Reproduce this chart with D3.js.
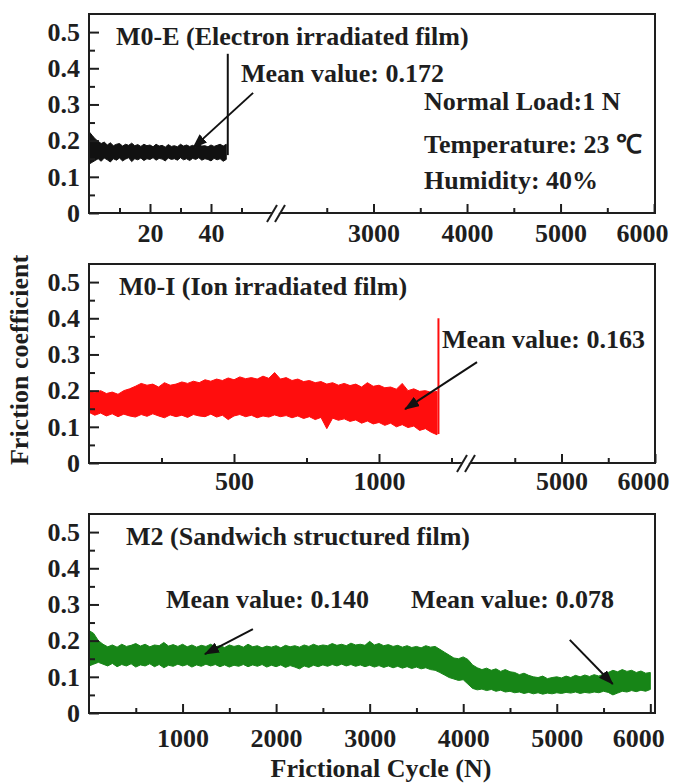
<!DOCTYPE html>
<html>
<head>
<meta charset="utf-8">
<script src="https://cdn.jsdelivr.net/npm/d3@7"></script>
<style>
  body { margin: 0; background: #fff; }
  svg text { font-family: "Liberation Serif", "Times New Roman", serif; font-weight: bold; fill: #1e1e1e; }
</style>
</head>
<body>
<div id="chart"></div>
<script>
// y axis, shared by the three panels
const yTicks = [0, 0.1, 0.2, 0.3, 0.4, 0.5];
const yMinor = [0.05, 0.15, 0.25, 0.35, 0.45];

// x ticks
const eMajorLeft = [20, 40], eMinorLeft = [10, 30, 50];
const eMajorRight = [3000, 4000, 5000, 6000], eMinorRight = [2500, 3500, 4500, 5500];
const iMajorLeft = [500, 1000], iMinorLeft = [250, 750, 1250];
const iMajorRight = [5000, 6000], iMinorRight = [4500, 5500];
const sMajor = [1000, 2000, 3000, 4000, 5000, 6000], sMinor = [500, 1500, 2500, 3500, 4500, 5500];

// M0-E: envelope of the trace, one sample per cycle (0..45)
const eStep = 1;
const eUpper = [0.225,0.215,0.205,0.198,0.192,0.196,0.188,0.194,0.186,0.19,0.192,0.185,0.19,0.187,0.193,0.186,0.189,0.184,0.19,0.186,0.188,0.183,0.19,0.185,0.187,0.182,0.189,0.184,0.186,0.183,0.19,0.185,0.188,0.184,0.187,0.182,0.189,0.185,0.186,0.183,0.188,0.184,0.187,0.19,0.185,0.19];
const eLower = [0.135,0.14,0.145,0.15,0.143,0.152,0.147,0.141,0.15,0.146,0.152,0.144,0.149,0.153,0.142,0.15,0.147,0.152,0.145,0.15,0.148,0.153,0.146,0.151,0.149,0.144,0.152,0.148,0.15,0.146,0.153,0.147,0.15,0.145,0.151,0.148,0.153,0.146,0.15,0.148,0.144,0.151,0.147,0.15,0.143,0.148];
const eSpike = { cycle: 45.5, from: 0.16, to: 0.44 };

// M0-I: one sample every 20 cycles (0..1200)
const iStep = 20;
const iUpper = [0.198,0.195,0.2,0.192,0.196,0.19,0.2,0.205,0.212,0.22,0.215,0.218,0.21,0.222,0.215,0.218,0.224,0.22,0.226,0.222,0.23,0.226,0.232,0.228,0.235,0.23,0.238,0.233,0.236,0.232,0.24,0.234,0.25,0.232,0.236,0.228,0.232,0.225,0.228,0.222,0.225,0.218,0.222,0.215,0.22,0.214,0.218,0.21,0.222,0.212,0.215,0.208,0.21,0.204,0.22,0.2,0.205,0.198,0.2,0.195,0.198];
const iLower = [0.14,0.132,0.138,0.13,0.136,0.128,0.135,0.13,0.127,0.134,0.129,0.136,0.13,0.125,0.133,0.128,0.132,0.126,0.134,0.13,0.128,0.135,0.127,0.132,0.12,0.13,0.134,0.128,0.132,0.125,0.13,0.127,0.133,0.128,0.131,0.125,0.13,0.123,0.128,0.12,0.126,0.095,0.124,0.118,0.122,0.115,0.119,0.11,0.116,0.108,0.112,0.104,0.11,0.1,0.106,0.098,0.102,0.09,0.095,0.085,0.078];
const iSpike = { cycle: 1205, from: 0.08, to: 0.40 };

// M2: one sample every 50 cycles (0..6000)
const sStep = 50;
const sUpper = [0.228,0.22,0.2,0.19,0.183,0.188,0.182,0.19,0.184,0.187,0.192,0.185,0.19,0.183,0.188,0.186,0.195,0.185,0.189,0.184,0.19,
  0.183,0.188,0.182,0.187,0.184,0.19,0.183,0.186,0.181,0.188,0.184,0.187,0.182,0.19,0.183,0.186,0.18,0.185,0.182,0.186,
  0.18,0.187,0.183,0.186,0.182,0.188,0.184,0.19,0.185,0.188,0.186,0.192,0.187,0.19,0.186,0.193,0.188,0.19,0.187,0.198,
  0.188,0.192,0.186,0.189,0.184,0.187,0.182,0.186,0.181,0.184,0.18,0.186,0.182,0.184,0.176,0.168,0.16,0.152,0.15,0.155,
  0.148,0.133,0.125,0.12,0.124,0.118,0.122,0.115,0.12,0.114,0.112,0.106,0.11,0.104,0.1,0.098,0.102,0.095,0.098,0.1,
  0.097,0.102,0.098,0.104,0.1,0.105,0.101,0.106,0.102,0.108,0.112,0.118,0.114,0.12,0.115,0.118,0.112,0.116,0.11,0.112];
const sLower = [0.13,0.135,0.14,0.135,0.13,0.137,0.128,0.134,0.13,0.136,0.127,0.133,0.13,0.136,0.128,0.134,0.125,0.132,0.129,0.135,0.13,
  0.134,0.127,0.133,0.129,0.135,0.13,0.134,0.128,0.133,0.127,0.132,0.129,0.134,0.128,0.133,0.129,0.134,0.127,0.132,0.128,
  0.133,0.126,0.131,0.127,0.122,0.13,0.126,0.132,0.128,0.133,0.129,0.134,0.13,0.135,0.13,0.134,0.129,0.133,0.128,0.132,
  0.127,0.131,0.126,0.13,0.125,0.129,0.124,0.128,0.123,0.127,0.122,0.125,0.12,0.118,0.112,0.105,0.098,0.094,0.09,0.092,
  0.08,0.068,0.064,0.066,0.062,0.065,0.06,0.063,0.058,0.06,0.056,0.058,0.054,0.057,0.053,0.056,0.052,0.055,0.053,0.056,
  0.054,0.057,0.055,0.058,0.054,0.057,0.055,0.058,0.056,0.06,0.057,0.05,0.055,0.06,0.058,0.062,0.059,0.063,0.06,0.065];
const sStart = { cycle: 0, from: 0, to: 0.225 };

const width = 673, height = 784;
const left = 89, right = 655, panelH = 199;
const fs = 26;

const svg = d3.select("#chart").append("svg")
  .attr("width", width).attr("height", height);

const defs = svg.append("defs");
defs.append("marker")
  .attr("id", "head")
  .attr("markerUnits", "userSpaceOnUse")
  .attr("markerWidth", 16).attr("markerHeight", 11)
  .attr("refX", 14).attr("refY", 5.5)
  .attr("orient", "auto")
  .append("path").attr("d", "M0,0 L15,5.5 L0,11 Z").attr("fill", "#111");

function bandRows(step, upper, lower) {
  return upper.map((u, i) => ({ c: i * step, hi: u, lo: lower[i] }));
}

function drawPanel(p) {
  const g = svg.append("g");
  const bottom = p.top + panelH;
  const y = d3.scaleLinear().domain([0, 0.55]).range([bottom, p.top]);
  const xs = p.segs.map((s) => d3.scaleLinear().domain(s.domain).range(s.range));
  const x = xs[0];

  // trace as a filled band
  const area = d3.area().x((d) => x(d.c)).y0((d) => y(d.lo)).y1((d) => y(d.hi));
  g.append("path").datum(p.rows)
    .attr("d", area).attr("fill", p.color)
    .attr("stroke", p.color).attr("stroke-width", 1).attr("stroke-linejoin", "miter");
  p.lines.forEach((s) => {
    g.append("line")
      .attr("x1", x(s.cycle)).attr("x2", x(s.cycle))
      .attr("y1", y(s.from)).attr("y2", y(s.to))
      .attr("stroke", p.color).attr("stroke-width", 2);
  });

  // y axis
  const ya = g.append("g").attr("transform", `translate(${left},0)`)
    .call(d3.axisLeft(y).tickValues(yTicks).tickSize(-10).tickPadding(9).tickFormat((d) => String(d)));
  const ym = g.append("g").attr("transform", `translate(${left},0)`)
    .call(d3.axisLeft(y).tickValues(yMinor).tickSize(-6).tickFormat(""));
  [ya, ym].forEach((a) => {
    a.select(".domain").remove();
    a.selectAll("line").attr("stroke", "#1e1e1e").attr("stroke-width", 2);
  });
  ya.selectAll("text").attr("font-size", fs).attr("fill", "#1e1e1e")
    .attr("font-family", "Liberation Serif").attr("font-weight", "bold");

  // x axes, one per segment
  p.segs.forEach((s, i) => {
    const a = g.append("g").attr("transform", `translate(0,${bottom})`)
      .call(d3.axisBottom(xs[i]).tickValues(s.major).tickSize(-9).tickPadding(p.labelPad).tickFormat((d) => String(d)));
    const m = g.append("g").attr("transform", `translate(0,${bottom})`)
      .call(d3.axisBottom(xs[i]).tickValues(s.minor).tickSize(-5).tickFormat(""));
    [a, m].forEach((ax) => {
      ax.select(".domain").remove();
      ax.selectAll("line").attr("stroke", "#1e1e1e").attr("stroke-width", 2);
    });
    a.selectAll("text").attr("font-size", fs).attr("fill", "#1e1e1e")
      .attr("font-family", "Liberation Serif").attr("font-weight", "bold")
      .attr("dx", (d) => (d === 6000 ? -12 : 0));
  });

  // frame
  g.append("rect")
    .attr("x", left).attr("y", p.top)
    .attr("width", right - left).attr("height", panelH)
    .attr("fill", "none").attr("stroke", "#1e1e1e").attr("stroke-width", 2);

  // axis break
  if (p.breakX) {
    const bx = p.breakX;
    g.append("polygon")
      .attr("points", `${bx - 9},${bottom + 3} ${bx - 2},${bottom - 3} ${bx + 6},${bottom - 3} ${bx - 1},${bottom + 3}`)
      .attr("fill", "#fff");
    [-4, 4].forEach((o) => {
      g.append("line")
        .attr("x1", bx + o - 6).attr("y1", bottom + 9)
        .attr("x2", bx + o + 4).attr("y2", bottom - 8)
        .attr("stroke", "#1e1e1e").attr("stroke-width", 2);
    });
  }

  // title and notes
  g.append("text").attr("x", p.titleX).attr("y", p.top + 31)
    .attr("font-size", fs).text(p.title);
  p.notes.forEach((n) => {
    g.append("text").attr("x", n.x).attr("y", n.y).attr("font-size", fs).text(n.text);
  });
  p.arrows.forEach((a) => {
    const sx = xs[a.seg || 0];
    g.append("line")
      .attr("x1", sx(a.from[0])).attr("y1", y(a.from[1]))
      .attr("x2", sx(a.to[0])).attr("y2", y(a.to[1]))
      .attr("stroke", "#111").attr("stroke-width", 2)
      .attr("marker-end", "url(#head)");
  });
}

drawPanel({
  top: 14, color: "#111",
  rows: bandRows(eStep, eUpper, eLower),
  lines: [eSpike],
  segs: [
    { domain: [0, 60], range: [left, 272], major: eMajorLeft, minor: eMinorLeft },
    { domain: [2000, 6010], range: [280, right], major: eMajorRight, minor: eMinorRight }
  ],
  breakX: 277, labelPad: 11,
  title: "M0-E (Electron irradiated film)", titleX: 116,
  notes: [
    { x: 241, y: 82, text: "Mean value: 0.172" },
    { x: 424, y: 110, text: "Normal Load:1 N" },
    { x: 424, y: 153, text: "Temperature: 23 \u2103" },
    { x: 424, y: 189, text: "Humidity: 40%" }
  ],
  arrows: [{ from: [53.8, 0.332], to: [34.1, 0.18] }]
});

drawPanel({
  top: 264, color: "#ff0d0d",
  rows: bandRows(iStep, iUpper, iLower),
  lines: [iSpike],
  segs: [
    { domain: [0, 1300], range: [left, 466], major: iMajorLeft, minor: iMinorLeft },
    { domain: [4000, 6000], range: [468, right], major: iMajorRight, minor: iMinorRight }
  ],
  breakX: 467, labelPad: 9,
  title: "M0-I (Ion irradiated film)", titleX: 119,
  notes: [{ x: 442, y: 348, text: "Mean value: 0.163" }],
  arrows: [{ from: [1338, 0.279], to: [1090, 0.149] }]
});

drawPanel({
  top: 514, color: "#178517",
  rows: bandRows(sStep, sUpper, sLower),
  lines: [sStart],
  segs: [{ domain: [0, 6050], range: [left, right], major: sMajor, minor: sMinor }],
  breakX: null, labelPad: 16,
  title: "M2 (Sandwich structured film)", titleX: 126,
  notes: [
    { x: 166, y: 608, text: "Mean value: 0.140" },
    { x: 411, y: 608, text: "Mean value: 0.078" }
  ],
  arrows: [
    { from: [1752, 0.232], to: [1239, 0.163] },
    { from: [5139, 0.202], to: [5598, 0.080] }
  ]
});

// axis titles
svg.append("text")
  .attr("transform", "translate(28,360) rotate(-90)")
  .attr("text-anchor", "middle").attr("font-size", fs)
  .text("Friction coefficient");
svg.append("text")
  .attr("x", 381).attr("y", 777)
  .attr("text-anchor", "middle").attr("font-size", fs)
  .text("Frictional Cycle (N)");
</script>
</body>
</html>
